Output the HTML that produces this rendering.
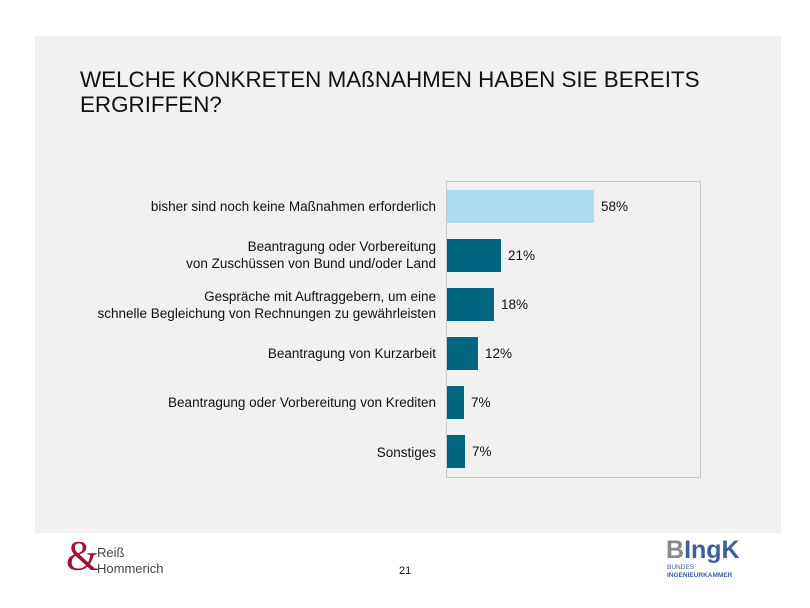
<!DOCTYPE html>
<html><head><meta charset="utf-8"><style>
body{margin:0;width:810px;height:608px;background:#fff;position:relative;font-family:"Liberation Sans",Arial,sans-serif;overflow:hidden}
.panel{position:absolute;left:35px;top:36px;width:746px;height:497px;background:#f1f1f1}
.title{position:absolute;left:80px;top:67px;font-size:22.4px;line-height:25px;color:#111}
.frame{position:absolute;left:446px;top:181px;width:253px;height:295px;border:1px solid #c8c8c8}
.bar{position:absolute;left:447px;height:33px;background:#006680}
.lab{position:absolute;right:374px;font-size:13.5px;line-height:17px;color:#111;text-align:right;white-space:nowrap}
.val{position:absolute;font-size:13.5px;color:#111}
</style></head><body>
<div class="panel"></div>
<div class="title">WELCHE KONKRETEN MAßNAHMEN HABEN SIE BEREITS<br>ERGRIFFEN?</div>
<div class="frame"></div>
<div class="bar" style="top:190px;width:147px;background:#aedcf4"></div>
<div class="bar" style="top:239px;width:54px"></div>
<div class="bar" style="top:288px;width:47px"></div>
<div class="bar" style="top:337px;width:31px"></div>
<div class="bar" style="top:386px;width:17px"></div>
<div class="bar" style="top:435px;width:18px"></div>
<div class="val" style="left:601px;top:199px">58%</div>
<div class="val" style="left:508px;top:248px">21%</div>
<div class="val" style="left:501px;top:297px">18%</div>
<div class="val" style="left:485px;top:346px">12%</div>
<div class="val" style="left:471px;top:395px">7%</div>
<div class="val" style="left:472px;top:444px">7%</div>
<div class="lab" style="top:198px">bisher sind noch keine Maßnahmen erforderlich</div>
<div class="lab" style="top:238px">Beantragung oder Vorbereitung<br>von Zuschüssen von Bund und/oder Land</div>
<div class="lab" style="top:288px">Gespräche mit Auftraggebern, um eine<br>schnelle Begleichung von Rechnungen zu gewährleisten</div>
<div class="lab" style="top:345px">Beantragung von Kurzarbeit</div>
<div class="lab" style="top:394px">Beantragung oder Vorbereitung von Krediten</div>
<div class="lab" style="top:444px">Sonstiges</div>
<div style="position:absolute;left:66px;top:536px;font-size:42px;color:#a0122e;line-height:42px;font-family:'Liberation Serif',serif">&amp;</div>
<div style="position:absolute;left:97px;top:545px;font-size:13px;line-height:16px;color:#444">Reiß<br>Hommerich</div>
<div style="position:absolute;left:399px;top:565px;font-size:11px;color:#111">21</div>
<div style="position:absolute;left:666px;top:537px;font-size:25px;font-weight:bold;line-height:26px"><span style="color:#888">B</span><span style="color:#3c5fa0">IngK</span></div>
<div style="position:absolute;left:667px;top:564px;font-size:6.5px;line-height:8px;color:#3c5fa0">BUNDES<br><b>INGENIEURKAMMER</b></div>
</body></html>
